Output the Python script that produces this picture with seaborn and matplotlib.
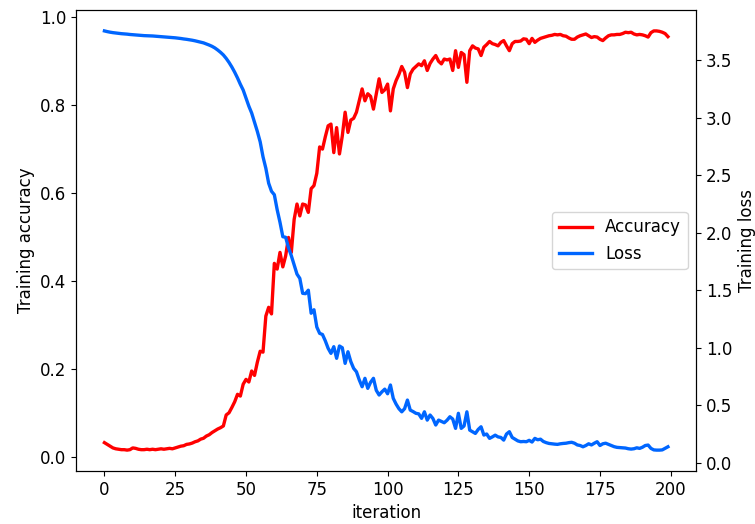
import numpy as np
import pandas as pd
import matplotlib
matplotlib.use("Agg")
import matplotlib.pyplot as plt
import seaborn as sns

# valores (200 iteraciones)
accuracy = [
    0.032, 0.028, 0.024, 0.020, 0.018, 0.017, 0.016, 0.016, 0.015, 0.016,
    0.020, 0.019, 0.017, 0.016, 0.016, 0.017, 0.016, 0.017, 0.016, 0.017,
    0.018, 0.017, 0.018, 0.019, 0.018, 0.020, 0.022, 0.024, 0.025, 0.028,
    0.029, 0.031, 0.034, 0.036, 0.040, 0.042, 0.047, 0.050, 0.055, 0.059,
    0.063, 0.066, 0.070, 0.095, 0.100, 0.112, 0.125, 0.142, 0.138, 0.165,
    0.176, 0.170, 0.195, 0.185, 0.215, 0.240, 0.238, 0.320, 0.340, 0.325,
    0.440, 0.427, 0.465, 0.432, 0.457, 0.499, 0.465, 0.540, 0.575, 0.548,
    0.575, 0.573, 0.556, 0.610, 0.617, 0.645, 0.705, 0.700, 0.728, 0.753,
    0.757, 0.692, 0.749, 0.689, 0.730, 0.784, 0.738, 0.766, 0.770, 0.784,
    0.810, 0.837, 0.810, 0.826, 0.820, 0.791, 0.826, 0.860, 0.829, 0.835,
    0.848, 0.787, 0.837, 0.856, 0.870, 0.888, 0.875, 0.840, 0.871, 0.882,
    0.888, 0.894, 0.890, 0.901, 0.879, 0.895, 0.905, 0.913, 0.900, 0.894,
    0.905, 0.903, 0.905, 0.879, 0.924, 0.886, 0.920, 0.915, 0.852, 0.924,
    0.935, 0.930, 0.928, 0.913, 0.932, 0.938, 0.945, 0.940, 0.938, 0.935,
    0.943, 0.947, 0.935, 0.924, 0.940, 0.945, 0.945, 0.946, 0.951, 0.950,
    0.940, 0.952, 0.943, 0.948, 0.952, 0.954, 0.956, 0.958, 0.959, 0.961,
    0.960, 0.961, 0.958, 0.957, 0.953, 0.950, 0.950, 0.955, 0.958, 0.960,
    0.962, 0.958, 0.954, 0.956, 0.955, 0.950, 0.947, 0.953, 0.958, 0.960,
    0.960, 0.961, 0.961, 0.963, 0.966, 0.965, 0.966, 0.962, 0.960, 0.961,
    0.960, 0.958, 0.955, 0.965, 0.969, 0.969, 0.968, 0.966, 0.963, 0.956,
]

loss = [
    3.754, 3.748, 3.743, 3.739, 3.736, 3.733, 3.730, 3.728, 3.726, 3.723,
    3.721, 3.719, 3.717, 3.715, 3.713, 3.712, 3.711, 3.710, 3.708, 3.706,
    3.704, 3.702, 3.700, 3.698, 3.696, 3.694, 3.691, 3.688, 3.684, 3.681,
    3.677, 3.673, 3.668, 3.662, 3.656, 3.650, 3.641, 3.631, 3.620, 3.606,
    3.588, 3.568, 3.545, 3.515, 3.480, 3.440, 3.395, 3.345, 3.290, 3.240,
    3.170, 3.100, 3.040, 2.960, 2.880, 2.790, 2.660, 2.560, 2.430, 2.360,
    2.330, 2.200, 2.090, 1.965, 1.960, 1.870, 1.800, 1.720, 1.640, 1.603,
    1.473, 1.470, 1.500, 1.300, 1.330, 1.180, 1.125, 1.115, 1.060, 0.995,
    0.951, 1.009, 0.908, 1.015, 1.000, 0.864, 0.965, 0.880, 0.821, 0.791,
    0.720, 0.661, 0.734, 0.647, 0.700, 0.734, 0.630, 0.589, 0.617, 0.640,
    0.600, 0.676, 0.560, 0.510, 0.470, 0.443, 0.470, 0.545, 0.458, 0.445,
    0.430, 0.425, 0.386, 0.443, 0.371, 0.415, 0.385, 0.328, 0.371, 0.360,
    0.348, 0.370, 0.400, 0.380, 0.299, 0.430, 0.299, 0.320, 0.443, 0.284,
    0.270, 0.255, 0.290, 0.313, 0.241, 0.250, 0.212, 0.225, 0.240, 0.225,
    0.220, 0.197, 0.250, 0.270, 0.220, 0.205, 0.190, 0.183, 0.185, 0.183,
    0.195, 0.180, 0.212, 0.200, 0.205, 0.185, 0.175, 0.168, 0.165, 0.162,
    0.160, 0.165, 0.168, 0.170, 0.175, 0.178, 0.170, 0.155, 0.150, 0.139,
    0.150, 0.165, 0.155, 0.170, 0.183, 0.150, 0.165, 0.170, 0.160, 0.150,
    0.140, 0.134, 0.132, 0.130, 0.128, 0.122, 0.119, 0.122, 0.130, 0.125,
    0.135, 0.150, 0.154, 0.125, 0.112, 0.110, 0.110, 0.112, 0.125, 0.139,
]

iteraciones = list(range(len(accuracy)))

df = pd.DataFrame({"iteration": iteraciones, "accuracy": accuracy, "loss": loss})

plt.rcParams["font.size"] = 12

fig, ax = plt.subplots(figsize=(7.55, 5.24), dpi=100)
fig.subplots_adjust(left=0.101, right=0.922, bottom=0.101, top=0.981)

sns.lineplot(x="iteration", y="accuracy", data=df, color="#ff0000",
             linewidth=2.4, label="Accuracy", ax=ax, legend=False)
ax.set_xlabel("iteration")
ax.set_ylabel("Training accuracy")

ax2 = ax.twinx()
sns.lineplot(x="iteration", y="loss", data=df, color="#0066ff",
             linewidth=2.4, label="Loss", ax=ax2, legend=False)
ax2.set_ylabel("Training loss")

ax.set_xticks(range(0, 201, 25))

# leyenda conjunta de los dos ejes
h1, l1 = ax.get_legend_handles_labels()
h2, l2 = ax2.get_legend_handles_labels()
ax2.legend(h1 + h2, l1 + l2, loc="center right")

plt.savefig("out.png", dpi=100)
